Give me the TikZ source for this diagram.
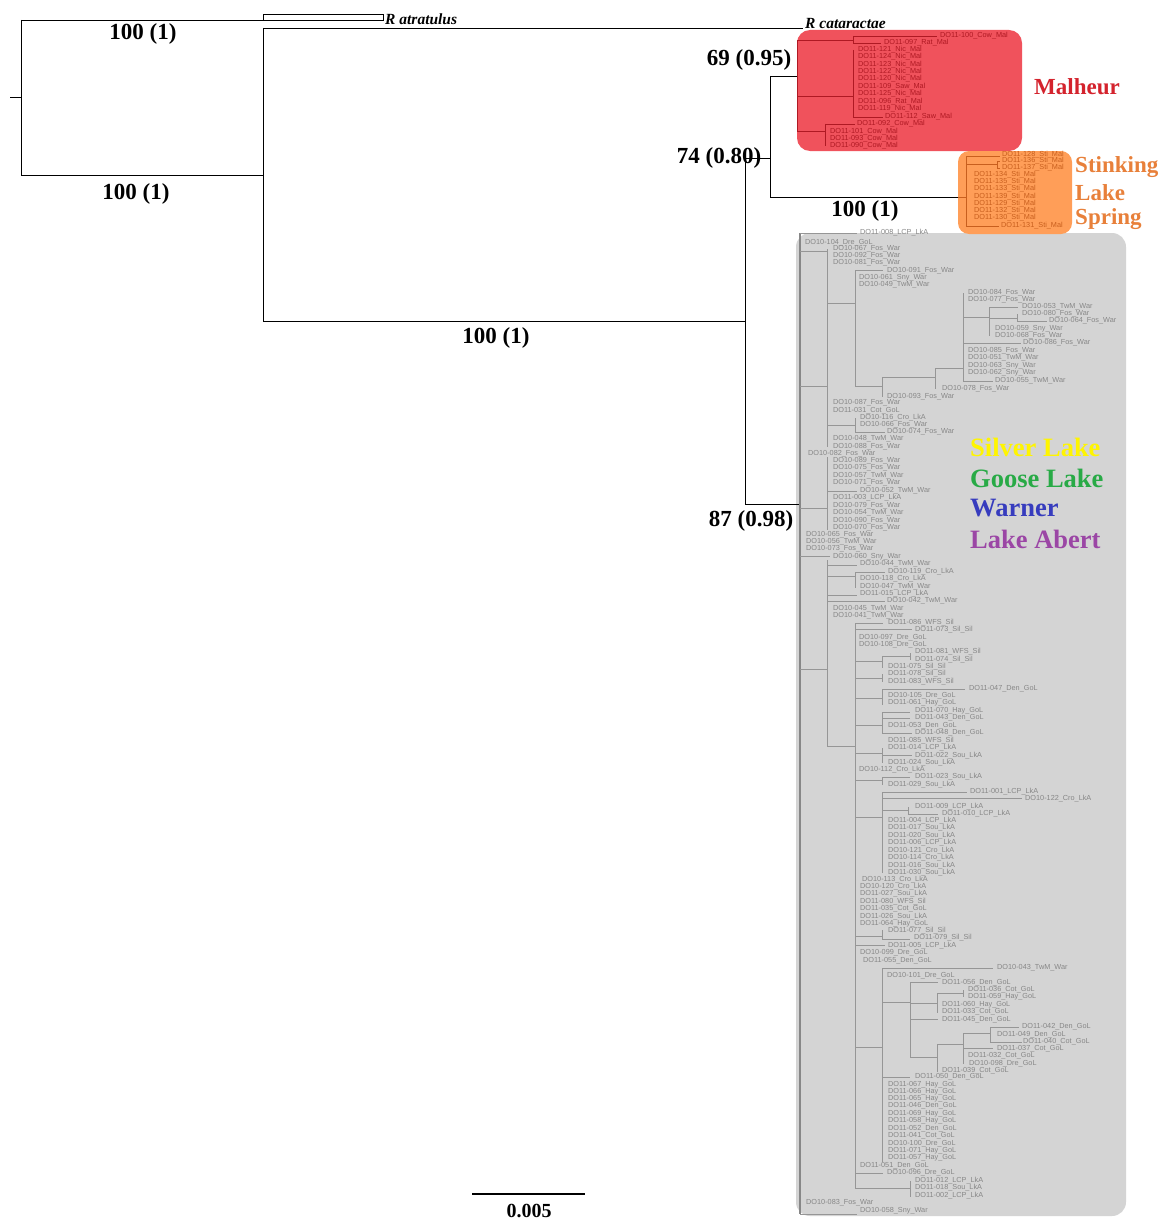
\documentclass[tikz,border=0pt]{standalone}
\usepackage{fontspec}
\setmainfont{Liberation Serif}
\newfontfamily\tipfont{Liberation Sans}
\definecolor{malfill}{RGB}{240,82,92}
\definecolor{malink}{RGB}{175,25,35}
\definecolor{malhead}{RGB}{212,35,45}
\definecolor{stifill}{RGB}{255,158,88}
\definecolor{stiink}{RGB}{200,95,30}
\definecolor{stihead}{RGB}{232,128,58}
\definecolor{grfill}{RGB}{212,212,212}
\definecolor{grline}{RGB}{150,150,150}
\definecolor{grtext}{RGB}{135,135,135}
\definecolor{silver}{RGB}{255,245,0}
\definecolor{goose}{RGB}{40,170,70}
\definecolor{warner}{RGB}{55,60,190}
\definecolor{abert}{RGB}{155,70,165}
\tikzset{
  tiny/.style={font=\tipfont\fontsize{7.3}{7.3}\selectfont, anchor=west, inner sep=0pt},
  gtip/.style={tiny, text=grtext},
  mtip/.style={tiny, text=malink},
  stip/.style={tiny, text=stiink},
  boot/.style={font=\fontsize{23}{23}\selectfont\bfseries, inner sep=0pt},
  taxon/.style={font=\fontsize{15.5}{16}\selectfont\bfseries\itshape, anchor=west, inner sep=0pt},
  legendtxt/.style={font=\fontsize{26.5}{27}\selectfont\bfseries, anchor=west, inner sep=0pt},
  grouptxt/.style={font=\fontsize{23}{24}\selectfont\bfseries, anchor=west, inner sep=0pt},
  tline/.style={line width=0.8pt, black},
  gline/.style={line width=0.9pt, grline},
  mline/.style={line width=0.8pt, malink},
  sline/.style={line width=0.8pt, stiink},
}
\begin{document}
\begin{tikzpicture}[x=1pt,y=-1pt]
\useasboundingbox[fill=white] (0,0) rectangle (1161,1220);

% boxes
\fill[grfill, rounded corners=14pt] (796,233) rectangle (1126,1216);
\fill[malfill, rounded corners=13pt] (797,30) rectangle (1022,151);
\fill[stifill, rounded corners=11pt] (958,151) rectangle (1072,234);

% main black tree
\draw[tline] (10,97) -- (21,97);
\draw[tline] (21,20) -- (21,175);
\draw[tline] (21,20) -- (263,20);
\draw[tline] (263,14) rectangle (383,20);
\draw[tline] (21,175) -- (263,175);
\draw[tline] (263,28) -- (263,321);
\draw[tline] (263,28) -- (803,28);
\draw[tline] (263,321) -- (745,321);
\draw[tline] (745,158) -- (745,504);
\draw[tline] (745,158) -- (770,158);
\draw[tline] (770,76) -- (770,197);
\draw[tline] (770,76) -- (797,76);
\draw[tline] (770,197) -- (958,197);
\draw[tline] (745,504) -- (800,504);

\node[taxon] (ratr) at (385,19) {R atratulus};
\node[taxon] (rcat) at (805,24) {R cataractae};

% support values
\node[boot] (b1) at (143,34) {100 (1)};
\node[boot] (b2) at (136,194) {100 (1)};
\node[boot] (b3) at (496,338) {100 (1)};
\node[boot] (b4) at (749,60) {69 (0.95)};
\node[boot] (b5) at (719,158) {74 (0.80)};
\node[boot] (b6) at (865,211) {100 (1)};
\node[boot] (b7) at (751,521) {87 (0.98)};

% Malheur subtree
\draw[mline] (797,40) -- (797,131);
\draw[mline] (797,40) -- (853,40);
\draw[mline] (853,36) -- (853,43);
\draw[mline] (853,36) -- (937,36);
\draw[mline] (853,43) -- (881,43);
\draw[mline] (797,96) -- (853,96);
\draw[mline] (853,50) -- (853,117);
\draw[mline] (853,117) -- (883,117);
\draw[mline] (797,131) -- (825,131);
\draw[mline] (825,124) -- (825,146);
\draw[mline] (825,124) -- (855,124);
\foreach \x/\y/\t [count=\i] in {
 940/36/DO11-100\_Cow\_Mal, 884/43/DO11-097\_Rat\_Mal,
 858/50/DO11-121\_Nic\_Mal, 858/57/DO11-124\_Nic\_Mal, 858/65/DO11-123\_Nic\_Mal,
 858/72/DO11-122\_Nic\_Mal, 858/79/DO11-120\_Nic\_Mal, 858/87/DO11-109\_Saw\_Mal,
 858/94/DO11-125\_Nic\_Mal, 858/102/DO11-096\_Rat\_Mal, 858/109/DO11-119\_Nic\_Mal,
 885/117/DO11-112\_Saw\_Mal, 857/124/DO11-092\_Cow\_Mal,
 830/132/DO11-101\_Cow\_Mal, 830/139/DO11-093\_Cow\_Mal, 830/146/DO11-090\_Cow\_Mal}
 \node[mtip] (m\i) at (\x,\y) {\t};
\node[grouptxt, text=malhead] (malheur) at (1034,87) {Malheur};

% Stinking Lake Spring subtree
\draw[sline] (958,197) -- (966,197);
\draw[sline] (966,156) -- (966,226);
\draw[sline] (966,156) -- (1000,156);
\draw[sline] (966,164) -- (997,164);
\draw[sline] (997,161) -- (997,168);
\draw[sline] (997,161) -- (1000,161);
\draw[sline] (997,168) -- (1000,168);
\draw[sline] (966,226) -- (999,226);
\foreach \x/\y/\t [count=\i] in {
 1002/155/DO11-128\_Sti\_Mal, 1002/161/DO11-136\_Sti\_Mal, 1002/168/DO11-137\_Sti\_Mal,
 974/175/DO11-134\_Sti\_Mal, 974/182/DO11-135\_Sti\_Mal, 974/189/DO11-133\_Sti\_Mal,
 974/197/DO11-139\_Sti\_Mal, 974/204/DO11-129\_Sti\_Mal, 974/211/DO11-132\_Sti\_Mal,
 974/218/DO11-130\_Sti\_Mal, 1001/226/DO11-131\_Sti\_Mal}
 \node[stip] (s\i) at (\x,\y) {\t};
\node[grouptxt, text=stihead] (sti1) at (1075,167) {Stinking};
\node[grouptxt, text=stihead] (sti2) at (1075,193) {Lake};
\node[grouptxt, text=stihead] (sti3) at (1075,219) {Spring};

% gray subtree: vertical lines
\draw[line width=1.4pt, grline!90!black] (800,233) -- (800,1214);
\foreach \x/\a/\b in {
 827/249/447, 827/457/530, 827/560/746, 855/270/386, 882/377/397, 935/368/389,
 963/293/381, 989/307/336, 1017/314/321, 855/418/432, 855/572/588, 855/623/1188,
 882/656/668, 910/653/660, 882/674/682, 882/689/705, 882/712/733, 882/748/763,
 882/777/785, 882/792/873, 908/807/814, 882/930/939, 882/968/1162, 910/982/1057,
 937/993/1013, 963/990/997, 937/1044/1072, 963/1033/1064, 990/1027/1042, 910/1181/1197}
 \draw[gline] (\x,\a) -- (\x,\b);
% gray subtree: horizontal lines
\foreach \y/\a/\b in {
 233/800/857, 251/800/827, 386/800/827, 303/827/855, 270/855/883, 386/855/882,
 377/882/935, 368/935/963, 317/963/989, 343/963/1021, 381/963/993, 307/989/1018,
 318/989/1017, 321/1017/1047, 425/827/855, 432/855/885, 491/827/857, 508/800/827,
 556/800/830, 669/800/827, 565/827/857, 576/827/855, 572/855/885, 595/827/857,
 601/827/885, 746/827/855, 623/855/883, 629/855/912, 661/855/882, 656/882/910,
 678/855/882, 698/855/882, 689/882/965, 712/882/910, 718/882/910, 725/855/882,
 733/882/912, 753/855/882, 755/882/912, 780/855/882, 777/882/910, 817/855/882,
 792/882/967, 798/882/1022, 810/882/908, 814/908/938, 936/855/882, 939/882/910,
 945/855/885, 1047/855/882, 968/882/993, 1002/882/910, 982/910/938, 1003/910/937,
 993/937/963, 1019/910/938, 1057/910/937, 1044/937/963, 1048/963/993, 1033/963/990,
 1027/990/1019, 1042/990/1022, 1077/882/910, 1173/855/883, 1188/855/910, 1214/800/857}
 \draw[gline] (\a,\y) -- (\b,\y);

% gray tip labels
\foreach \x/\y/\t [count=\i] in {
860/233/DO11-008\_LCP\_LkA, 805/243/DO10-104\_Dre\_GoL, 833/249/DO10-067\_Fos\_War,
833/256/DO10-092\_Fos\_War, 833/263/DO10-081\_Fos\_War, 887/271/DO10-091\_Fos\_War,
859/278/DO10-061\_Sny\_War, 859/285/DO10-049\_TwM\_War, 968/293/DO10-084\_Fos\_War,
968/300/DO10-077\_Fos\_War, 1022/307/DO10-053\_TwM\_War, 1022/314/DO10-080\_Fos\_War,
1049/321/DO10-064\_Fos\_War, 995/329/DO10-059\_Sny\_War, 995/336/DO10-068\_Fos\_War,
1023/343/DO10-086\_Fos\_War, 968/351/DO10-085\_Fos\_War, 968/358/DO10-051\_TwM\_War,
968/366/DO10-063\_Sny\_War, 968/373/DO10-062\_Sny\_War, 995/381/DO10-055\_TwM\_War,
942/389/DO10-078\_Fos\_War, 887/397/DO10-093\_Fos\_War, 833/403/DO10-087\_Fos\_War,
833/411/DO11-031\_Cot\_GoL, 860/418/DO10-116\_Cro\_LkA, 860/425/DO10-066\_Fos\_War,
887/432/DO10-074\_Fos\_War, 833/439/DO10-048\_TwM\_War, 833/447/DO10-088\_Fos\_War,
808/454/DO10-082\_Fos\_War, 833/461/DO10-089\_Fos\_War, 833/468/DO10-075\_Fos\_War,
833/476/DO10-057\_TwM\_War, 833/483/DO10-071\_Fos\_War, 860/491/DO10-052\_TwM\_War,
833/498/DO11-003\_LCP\_LkA, 833/506/DO10-079\_Fos\_War, 833/513/DO10-054\_TwM\_War,
833/521/DO10-090\_Fos\_War, 833/528/DO10-070\_Fos\_War, 806/535/DO10-065\_Fos\_War,
806/542/DO10-056\_TwM\_War, 806/549/DO10-073\_Fos\_War, 833/557/DO10-060\_Sny\_War,
860/564/DO10-044\_TwM\_War, 888/572/DO10-119\_Cro\_LkA, 860/579/DO10-118\_Cro\_LkA,
860/587/DO10-047\_TwM\_War, 860/594/DO11-015\_LCP\_LkA, 887/601/DO10-042\_TwM\_War,
833/609/DO10-045\_TwM\_War, 833/616/DO10-041\_TwM\_War, 888/623/DO11-086\_WFS\_Sil,
915/630/DO11-073\_Sil\_Sil, 859/638/DO10-097\_Dre\_GoL, 859/645/DO10-108\_Dre\_GoL,
915/652/DO11-081\_WFS\_Sil, 915/660/DO11-074\_Sil\_Sil, 888/667/DO11-075\_Sil\_Sil,
888/674/DO11-078\_Sil\_Sil, 888/682/DO11-083\_WFS\_Sil, 969/689/DO11-047\_Den\_GoL,
888/696/DO10-105\_Dre\_GoL, 888/703/DO11-061\_Hay\_GoL, 915/711/DO11-070\_Hay\_GoL,
915/718/DO11-043\_Den\_GoL, 888/726/DO11-053\_Den\_GoL, 915/733/DO11-048\_Den\_GoL,
888/741/DO11-085\_WFS\_Sil, 888/748/DO11-014\_LCP\_LkA, 915/756/DO11-022\_Sou\_LkA,
888/763/DO11-024\_Sou\_LkA, 859/770/DO10-112\_Cro\_LkA, 915/777/DO11-023\_Sou\_LkA,
888/785/DO11-029\_Sou\_LkA, 970/792/DO11-001\_LCP\_LkA, 1025/799/DO10-122\_Cro\_LkA,
915/807/DO11-009\_LCP\_LkA, 942/814/DO11-010\_LCP\_LkA, 888/821/DO11-004\_LCP\_LkA,
888/828/DO11-017\_Sou\_LkA, 888/836/DO11-020\_Sou\_LkA, 888/843/DO11-006\_LCP\_LkA,
888/851/DO10-121\_Cro\_LkA, 888/858/DO10-114\_Cro\_LkA, 888/866/DO11-016\_Sou\_LkA,
888/873/DO11-030\_Sou\_LkA, 862/880/DO10-113\_Cro\_LkA, 860/887/DO10-120\_Cro\_LkA,
860/894/DO11-027\_Sou\_LkA, 860/902/DO11-080\_WFS\_Sil, 860/909/DO11-035\_Cot\_GoL,
860/917/DO11-026\_Sou\_LkA, 860/924/DO11-064\_Hay\_GoL, 888/931/DO11-077\_Sil\_Sil,
914/938/DO11-079\_Sil\_Sil, 888/946/DO11-005\_LCP\_LkA, 860/953/DO10-099\_Dre\_GoL,
863/961/DO11-055\_Den\_GoL, 997/968/DO10-043\_TwM\_War, 887/976/DO10-101\_Dre\_GoL,
942/983/DO11-056\_Den\_GoL, 968/990/DO11-036\_Cot\_GoL, 968/997/DO11-059\_Hay\_GoL,
942/1005/DO11-060\_Hay\_GoL, 942/1012/DO11-033\_Cot\_GoL, 942/1020/DO11-045\_Den\_GoL,
1022/1027/DO11-042\_Den\_GoL, 997/1035/DO11-049\_Den\_GoL, 1023/1042/DO11-040\_Cot\_GoL,
997/1049/DO11-037\_Cot\_GoL, 968/1056/DO11-032\_Cot\_GoL, 969/1064/DO10-098\_Dre\_GoL,
942/1071/DO11-039\_Cot\_GoL, 915/1077/DO11-050\_Den\_GoL, 888/1085/DO11-067\_Hay\_GoL,
888/1092/DO11-066\_Hay\_GoL, 888/1099/DO11-065\_Hay\_GoL, 888/1106/DO11-046\_Den\_GoL,
888/1114/DO11-069\_Hay\_GoL, 888/1121/DO11-058\_Hay\_GoL, 888/1129/DO11-052\_Den\_GoL,
888/1136/DO11-041\_Cot\_GoL, 888/1144/DO10-100\_Dre\_GoL, 888/1151/DO11-071\_Hay\_GoL,
888/1158/DO11-057\_Hay\_GoL, 860/1166/DO11-051\_Den\_GoL, 887/1173/DO10-096\_Dre\_GoL,
915/1181/DO11-012\_LCP\_LkA, 915/1188/DO11-018\_Sou\_LkA, 915/1196/DO11-002\_LCP\_LkA,
806/1203/DO10-083\_Fos\_War, 860/1211/DO10-058\_Sny\_War}
 \node[gtip] (g\i) at (\x,\y) {\t};

% legend
\node[legendtxt, text=silver] (lsil) at (970,447) {Silver Lake};
\node[legendtxt, text=goose] (lgoo) at (970,478) {Goose Lake};
\node[legendtxt, text=warner] (lwar) at (970,508) {Warner};
\node[legendtxt, text=abert] (labe) at (970,539) {Lake Abert};

% scale bar
\coordinate (sbl) at (472,1194);
\coordinate (sbr) at (585,1194);
\draw[line width=2pt] (sbl) -- (sbr);
\node[boot, font=\fontsize{20}{20}\selectfont\bfseries] (sbt) at (529,1211) {0.005};
\end{tikzpicture}
\end{document}
